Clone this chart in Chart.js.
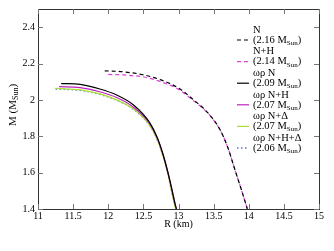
<!DOCTYPE html>
<html><head><meta charset="utf-8">
<script src="https://cdn.jsdelivr.net/npm/chart.js@4/dist/chart.umd.min.js"></script>
<style>html,body{margin:0;padding:0;background:#fff}#wrap{width:334px;height:251px}</style>
</head><body><div id="wrap"><canvas id="c"></canvas></div>
<script>
// ---- data (R in km, M in solar masses) ----
const nR     = [11.95, 12.2, 12.5, 12.75, 13.0, 13.2, 13.45, 13.6, 13.7, 13.8, 13.9, 13.98];
const nM     = [2.16, 2.155, 2.138, 2.11, 2.065, 2.005, 1.915, 1.83, 1.74, 1.62, 1.50, 1.40];
const nhR    = [12.0, 12.2, 12.5, 12.75, 13.0, 13.2, 13.45, 13.6, 13.7, 13.8, 13.9, 13.98];
const nhM    = [2.14, 2.138, 2.126, 2.1, 2.058, 2.0, 1.913, 1.829, 1.74, 1.62, 1.50, 1.40];
const wnR    = [11.33, 11.6, 11.88, 12.12, 12.36, 12.59, 12.7, 12.78, 12.85, 12.91, 12.95, 12.97];
const wnM    = [2.09, 2.085, 2.06, 2.027, 1.972, 1.875, 1.79, 1.70, 1.60, 1.50, 1.43, 1.40];
const wnhR   = [11.3, 11.6, 11.88, 12.12, 12.36, 12.59, 12.7, 12.78, 12.85, 12.91, 12.95, 12.97];
const wnhM   = [2.073, 2.068, 2.045, 2.013, 1.96, 1.87, 1.787, 1.70, 1.60, 1.50, 1.43, 1.40];
const wndR   = [11.25, 11.6, 11.88, 12.12, 12.36, 12.59, 12.7, 12.78, 12.85, 12.9, 12.94, 12.96];
const wndM   = [2.063, 2.055, 2.033, 2.0, 1.95, 1.86, 1.78, 1.69, 1.59, 1.50, 1.43, 1.40];
const wnhdR  = [11.25, 11.6, 11.88, 12.12, 12.36, 12.59, 12.7, 12.78, 12.85, 12.9, 12.94, 12.96];
const wnhdM  = [2.06, 2.052, 2.03, 1.998, 1.948, 1.858, 1.778, 1.69, 1.59, 1.50, 1.43, 1.40];
const seriesNames = ['N', 'N+H', 'ωρ N', 'ωρ N+H', 'ωρ N+Δ', 'ωρ N+H+Δ'];
const maxMassLabels = ['2.16', '2.14', '2.09', '2.07', '2.07', '2.06'];
const xTickValues = [11, 11.5, 12, 12.5, 13, 13.5, 14, 14.5, 15];
const yTickValues = [1.4, 1.6, 1.8, 2.0, 2.2, 2.4];

const pts = (R, M) => R.map((r, i) => ({x: r, y: M[i]}));
const styles = [
  {c: '#000000', dash: [4, 3], w: 1.2},
  {c: '#e040e0', dash: [4, 3], w: 1.2},
  {c: '#000000', dash: [], w: 1.2},
  {c: '#c020c0', dash: [], w: 1.2},
  {c: '#a8e030', dash: [], w: 1.2},
  {c: '#5070e0', dash: [1.5, 2.5], w: 1.3},
];
const allData = [pts(nR, nM), pts(nhR, nhM), pts(wnR, wnM), pts(wnhR, wnhM), pts(wndR, wndM), pts(wnhdR, wnhdM)];
const datasets = allData.map((d, i) => ({
  label: seriesNames[i], data: d, showLine: true, pointRadius: 0, fill: false,
  borderColor: styles[i].c, borderWidth: styles[i].w, borderDash: styles[i].dash,
  cubicInterpolationMode: 'monotone', tension: 0.4
}));

const FONT = 'Liberation Serif';
function drawSubText(ctx, x, y, main, sub, tail, size) {
  ctx.font = size + 'px "' + FONT + '"';
  ctx.fillText(main, x, y);
  let w = ctx.measureText(main).width;
  ctx.font = Math.round(size * 0.7) + 'px "' + FONT + '"';
  ctx.fillText(sub, x + w, y + size * 0.3);
  w += ctx.measureText(sub).width;
  ctx.font = size + 'px "' + FONT + '"';
  ctx.fillText(tail, x + w, y);
  w += ctx.measureText(tail).width;
  return w;
}
function subWidth(ctx, main, sub, tail, size) {
  ctx.font = size + 'px "' + FONT + '"';
  let w = ctx.measureText(main).width + ctx.measureText(tail).width;
  ctx.font = Math.round(size * 0.7) + 'px "' + FONT + '"';
  return w + ctx.measureText(sub).width;
}

const framePlugin = {
  id: 'frame',
  afterDraw(chart) {
    const {ctx, chartArea: a, scales: {x, y}} = chart;
    ctx.save();
    ctx.strokeStyle = '#333';
    ctx.lineWidth = 1;
    ctx.setLineDash([]);
    ctx.strokeRect(Math.round(a.left) + 0.5, Math.round(a.top) + 0.5, Math.round(a.right - a.left), Math.round(a.bottom - a.top));
    ctx.strokeStyle = '#777';
    ctx.beginPath();
    const L = 5;
    xTickValues.forEach(v => {
      const px = Math.round(x.getPixelForValue(v)) + 0.5;
      ctx.moveTo(px, a.bottom); ctx.lineTo(px, a.bottom - L);
      ctx.moveTo(px, a.top); ctx.lineTo(px, a.top + L);
    });
    yTickValues.forEach(v => {
      const py = Math.round(y.getPixelForValue(v)) + 0.5;
      ctx.moveTo(a.left, py); ctx.lineTo(a.left + L, py);
      ctx.moveTo(a.right, py); ctx.lineTo(a.right - L, py);
    });
    ctx.stroke();

    // axis titles
    ctx.fillStyle = '#000';
    ctx.textBaseline = 'middle';
    ctx.textAlign = 'left';
    ctx.font = '10px "' + FONT + '"';
    const xt = 'R (km)';
    const xw = ctx.measureText(xt).width;
    ctx.fillText(xt, (a.left + a.right) / 2 - xw / 2, a.bottom + 15);

    ctx.save();
    ctx.translate(13, (a.top + a.bottom) / 2 - 4);
    ctx.rotate(-Math.PI / 2);
    const yw = subWidth(ctx, 'M (M', 'Sun', ')', 11);
    drawSubText(ctx, -yw / 2, 0, 'M (M', 'Sun', ')', 11);
    ctx.restore();

    // legend
    for (let i = 0; i < 6; i++) {
      const y2 = 40 + 21.6 * i;
      const s = styles[i];
      ctx.strokeStyle = s.c;
      ctx.lineWidth = s.w;
      ctx.setLineDash(s.dash);
      ctx.beginPath();
      ctx.moveTo(237, y2); ctx.lineTo(249, y2);
      ctx.stroke();
      ctx.setLineDash([]);
      ctx.fillStyle = '#000';
      ctx.font = '10.5px "' + FONT + '"';
      ctx.fillText(seriesNames[i], 253, y2 - 10);
      drawSubText(ctx, 253, y2, '(' + maxMassLabels[i] + ' M', 'Sun', ')', 10.5);
    }
    ctx.restore();
  }
};

const fmt = v => String(Math.round(v * 10) / 10);
new Chart(document.getElementById('c'), {
  type: 'scatter',
  data: {datasets},
  options: {
    responsive: true, maintainAspectRatio: false, animation: false,
    layout: {padding: {top: 9, right: 15, left: 0, bottom: 0}},
    plugins: {legend: {display: false}, tooltip: {enabled: false}},
    scales: {
      x: {
        type: 'linear', min: 11, max: 15,
        grid: {display: false, drawTicks: false}, border: {display: false},
        ticks: {stepSize: 0.5, color: '#000', padding: 1, font: {family: FONT, size: 10}, callback: fmt, maxRotation: 0, autoSkip: false},
        afterFit: s => { s.height = 42; }
      },
      y: {
        type: 'linear', min: 1.4, max: 2.5,
        grid: {display: false, drawTicks: false}, border: {display: false},
        ticks: {stepSize: 0.2, color: '#000', padding: 3, font: {family: FONT, size: 10}, autoSkip: false,
          callback: v => (Math.abs(v - 2.5) < 1e-6 ? '' : fmt(v))},
        afterFit: s => { s.width = 38; }
      }
    }
  },
  plugins: [framePlugin]
});
</script>
</body></html>
